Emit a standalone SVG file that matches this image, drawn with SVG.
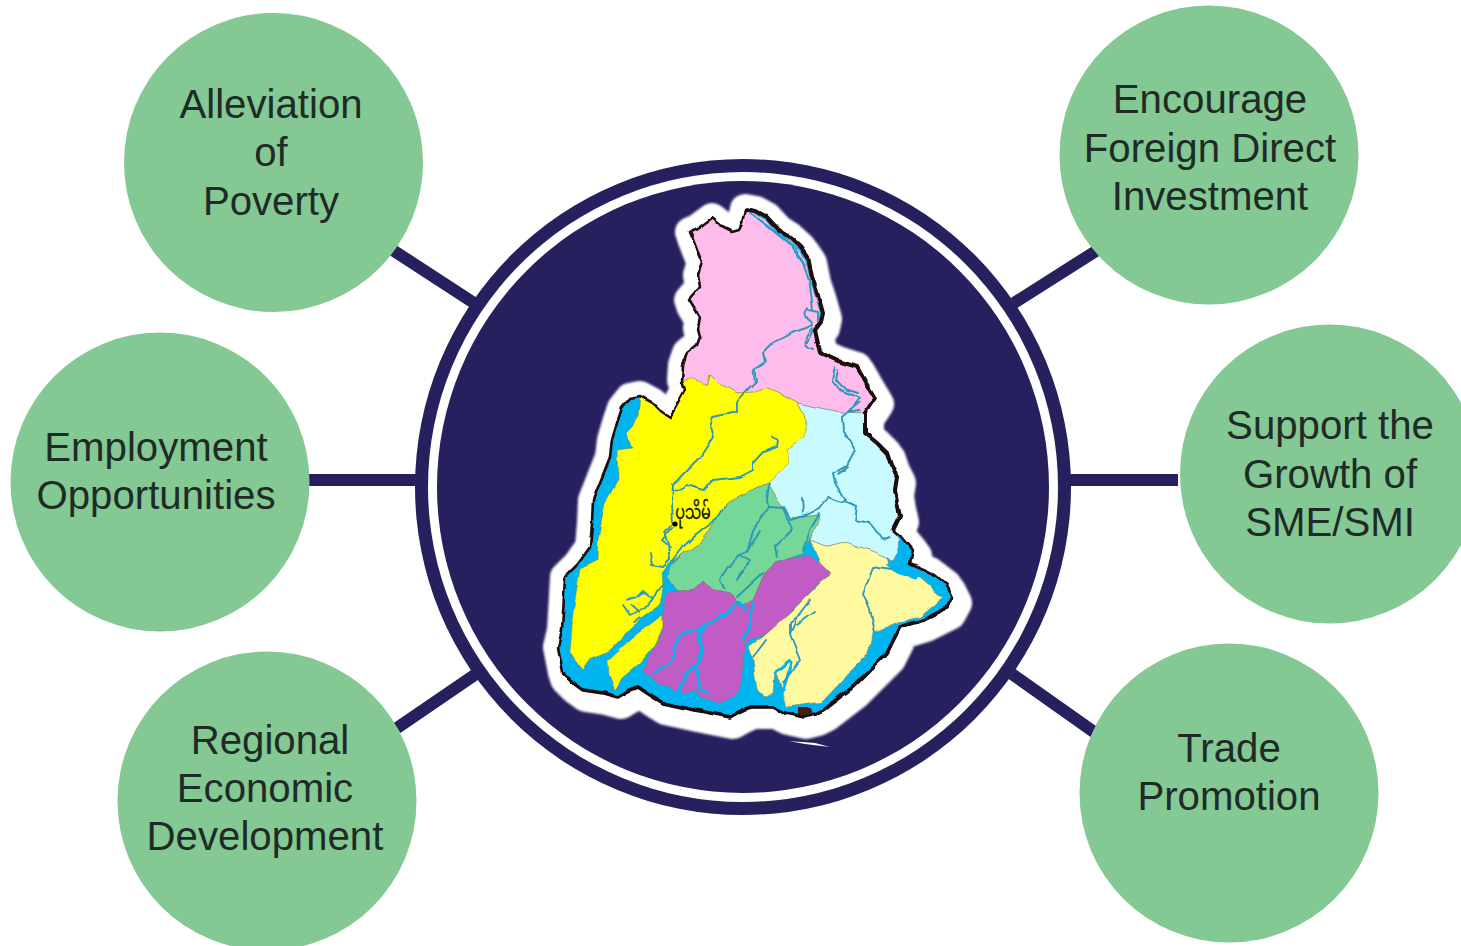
<svg xmlns="http://www.w3.org/2000/svg" width="1461" height="946" viewBox="0 0 1461 946">
<style>
.n{fill:#84c894}
.l{font-family:"Liberation Sans",Arial,sans-serif;font-size:40.2px;fill:#1f2b26;text-anchor:middle}
.c{stroke:#27205f;stroke-width:12;fill:none}
.r{fill:none;stroke:#2f98b8;stroke-width:1.9;stroke-linejoin:round;stroke-linecap:round}
.b{fill:none;stroke:#00b5ef;stroke-linejoin:round;stroke-linecap:round}
.e{stroke:#8a7a50;stroke-width:.5;stroke-linejoin:round}
</style>
<defs>
<filter id="w" filterUnits="userSpaceOnUse" x="520" y="180" width="470" height="560">
<feTurbulence type="fractalNoise" baseFrequency="0.08" numOctaves="1" seed="4" result="t"/>
<feDisplacementMap in="SourceGraphic" in2="t" scale="5" xChannelSelector="R" yChannelSelector="G"/>
<feGaussianBlur stdDeviation="0.6"/>
</filter>
<filter id="s" filterUnits="userSpaceOnUse" x="500" y="160" width="510" height="620">
<feGaussianBlur stdDeviation="0.9"/>
</filter>
<path id="o" d="M690,232 L697,229 L712,218 L722,226 L732,231 L739,229 L742,223 L745,209 L756,211 L767,217 L779,230 L790,237 L801,247 L808,257 L812,277 L817,292 L823,313 L821,322 L815,330 L820,353 L838,361 L857,367 L866,383 L875,398 L865,413 L865,433 L877,443 L887,453 L891,465 L897,477 L895,490 L897,503 L900,516 L893,530 L903,538 L913,550 L910,563 L930,572 L947,585 L953,597 L947,608 L923,620 L900,627 L887,653 L873,667 L853,687 L823,710 L815,714 L803,717 L785,713 L773,707 L750,707 L737,713 L730,717 L695,710 L663,703 L650,695 L638,687 L628,691 L618,697 L603,693 L583,690 L572,682 L563,673 L558,647 L562,630 L563,613 L564,595 L565,577 L578,564 L590,547 L592,523 L593,500 L597,490 L610,457 L612,440 L617,423 L622,408 L630,398 L640,396 L653,403 L662,412 L670,417 L678,403 L685,390 L682,380 L683,365 L687,353 L697,345 L700,337 L698,328 L700,318 L689,300 L695,293 L700,287 L698,275 L702,262 L697,250 L692,237 Z"/>
</defs>

<g id="connectors">
<line class="c" x1="391" y1="249" x2="474" y2="303"/>
<line class="c" x1="1096" y1="251" x2="1014" y2="303"/>
<line class="c" x1="308" y1="480" x2="418" y2="480"/>
<line class="c" x1="1178" y1="480" x2="1068" y2="480"/>
<line class="c" x1="397" y1="728" x2="476" y2="674"/>
<line class="c" x1="1094" y1="732" x2="1012" y2="674"/>
</g>

<g id="hub">
<circle cx="743" cy="487" r="328" fill="#27205f"/>
<circle cx="743" cy="487" r="315" fill="#fff"/>
<circle cx="743" cy="487" r="306" fill="#27205f"/>
</g>

<g id="map">
<g filter="url(#s)">
<use href="#o" fill="#fff" stroke="#fff" stroke-width="30" stroke-linejoin="round"/>
<use href="#o" fill="#fff" stroke="#fff" stroke-width="32" stroke-linejoin="round" transform="translate(3,6)"/>
</g>
<g filter="url(#w)">
<use href="#o" fill="#00b5ef"/>
<path class="e" fill="#fdbcec" d="M690,232 L697,229 L712,218 L722,226 L732,231 L739,229 L742,223 L745,209 L756,214 L767,221 L779,234 L790,241 L801,252 L806,262 L810,280 L815,295 L820,312 L819,322 L815,330 L820,353 L838,361 L857,367 L866,383 L875,398 L865,413 L840,412 L797,403 L768,388 L755,392 L737,393 L722,385 L710,375 L708,385 L687,380 L682,380 L683,365 L687,353 L697,345 L700,337 L698,328 L700,318 L689,300 L695,293 L700,287 L698,275 L702,262 L697,250 L692,237 Z"/>
<path class="e" fill="#c8faff" d="M797,403 L840,412 L865,413 L865,433 L877,443 L887,453 L891,465 L897,477 L895,490 L897,503 L900,516 L893,530 L900,540 L897,552 L892,562 L887,557 L870,550 L840,542 L825,546 L810,540 L820,515 L790,518 L775,495 L768,483 L787,450 L807,423 Z"/>
<path class="e" fill="#ffff00" d="M640,396 L653,403 L662,412 L670,417 L678,403 L685,390 L682,380 L690,378 L708,385 L710,375 L722,385 L737,393 L755,392 L768,388 L797,403 L807,423 L803,437 L787,450 L789,463 L768,483 L727,503 L712,524 L700,543 L684,553 L668,565 L662,573 L663,587 L660,605 L643,617 L630,630 L610,650 L590,658 L582,670 L570,653 L573,613 L580,568 L597,560 L598,540 L605,503 L618,480 L617,450 L632,448 L627,433 L638,417 Z"/>
<path class="e" fill="#ffff00" d="M663,615 L663,627 L655,645 L640,663 L622,678 L615,690 L609,675 L608,660 L633,637 L645,628 Z"/>
<path class="e" fill="#74d898" d="M768,483 L775,495 L790,518 L820,515 L818,524 L802,553 L775,562 L765,572 L753,600 L740,607 L733,595 L713,590 L703,580 L693,590 L678,592 L668,577 L670,567 L684,553 L700,543 L712,524 L727,503 Z"/>
<path class="e" fill="#c05cc4" d="M667,593 L678,592 L693,590 L703,580 L713,590 L733,595 L740,607 L753,600 L765,572 L775,562 L808,554 L820,563 L830,573 L812,590 L790,612 L775,628 L762,636 L750,640 L744,645 L743,665 L740,690 L733,697 L720,703 L700,697 L697,690 L678,693 L670,688 L657,683 L642,670 L653,650 L663,630 L663,613 Z"/>
<path class="e" fill="#fffaa0" d="M810,540 L825,546 L840,542 L870,550 L887,557 L890,570 L920,578 L943,598 L920,617 L897,623 L873,633 L868,653 L840,683 L822,702 L787,707 L783,693 L775,670 L773,693 L765,697 L757,690 L753,660 L748,647 L763,637 L790,613 L830,573 L820,563 Z"/>

<g id="sea-channels">
<path class="b" stroke-width="5" d="M889,566 L900,572 L915,578"/>
<path class="b" stroke-width="3" d="M775,672 L790,660 M783,690 L792,662"/>
<path class="b" stroke-width="3" d="M737,603 L727,613 L703,627"/>
<path class="b" stroke-width="4.500" d="M703,627 L698,637 L703,650 L700,660"/>
<path class="b" stroke-width="3.500" d="M700,660 L687,673 L677,693"/>
<path class="b" stroke-width="2.500" d="M683,633 L673,647 L675,654 L670,663 L653,673"/>
<path class="b" stroke-width="2.500" d="M703,627 L683,633"/>
<path class="b" stroke-width="2.500" d="M697,668 L700,690 L708,692"/>
<path class="b" stroke-width="3" d="M753,603 L750,625 L743,640"/>
<path class="b" stroke-width="3" d="M737,603 L745,610"/>
</g>

<g id="rivers">
<path class="r" d="M755,370 L757,380 L747,390 L737,402 L737,412 L713,417 L710,427 L713,437 L700,457 L687,470 L673,485 L672,503 L673,523 L665,533 L670,547"/>
<path class="r" d="M673,492 L687,485 L703,490 L713,480 L740,477 L753,470 L753,463 L763,452 L777,447 L778,440 L772,437"/>
<path class="r" d="M812,325 L793,333 L773,343 L763,353 L765,362 L753,370 L755,382"/>
<path class="r" d="M812,323 C804,318 802,312 808,308 M808,310 L818,312 L818,322 M812,328 C804,338 802,345 813,349 M813,330 L807,342 M816,335 L822,352"/>
<path class="r" d="M747,210 L765,224 L790,245 L803,263 L810,285 L813,310"/>
<path class="r" stroke-width="3" style="stroke:#17a6d8" d="M750,213 L770,227 L795,248 L805,266"/>
<path class="r" d="M835,367 L832,380 L840,390 L860,398 L853,407 L842,417 L843,430 L855,450 L847,465 L833,473 L835,483 L845,500 L840,503 L828,498 L820,508 L805,516 L790,520"/>
<path class="r" d="M838,370 L836,380 L845,389 L858,393 M860,402 L848,412 L860,410 M848,466 L838,474 L845,470"/>
<path class="r" d="M845,502 L857,507 L855,520 L870,523 L882,540 L890,537"/>
<path class="r" d="M802,498 L803,512"/>
<path class="r" d="M820,513 L810,530 L808,537 L803,550"/>
<path class="r" d="M768,507 L753,530 L748,550"/>
<path class="r" d="M768,507 L783,508 L792,530 L775,547 L777,557"/>
<path class="r" d="M760,530 L747,552 L740,555 L727,567 L720,580 L725,590"/>
<path class="r" d="M740,555 L750,560 L737,580 L742,570 M763,573 L737,597"/>
<path class="r" d="M790,518 L784,507"/>
<path class="r" d="M769,484 L767,500 L768,507"/>
<path class="r" d="M726,505 L720,512 L715,520 L705,527 L695,535 L685,545 L672,562"/>
<path class="r" d="M672,528 L662,540 L668,545 L670,560 L663,567 L652,565 L650,553"/>
<path class="r" d="M664,585 L657,590 L652,600 L645,608 L630,615 L623,605 M643,590 L652,598 M643,590 L636,597 L627,600 M640,612 L632,605 M640,618 L635,622"/>
<path class="r" d="M890,570 L873,567 L863,593 L870,610 L875,632"/>
<path class="r" stroke-width="2.500" d="M783,683 L800,660 L790,635 L797,617 L810,600 M790,635 L790,623 L800,615 M797,625 L815,612"/>
<path class="r" stroke-width="1.500" d="M753,657 L760,648 L766,640"/>
<use href="#o" fill="none" stroke="#1c0a0c" stroke-width="2.600" stroke-linejoin="round"/>
<path fill="none" stroke="#1c0a0c" stroke-width="4" stroke-linejoin="round" d="M745,209 L756,211 L767,217 L779,230 L790,237 L801,247 L808,257 L812,277 L817,292 L823,313 L821,322 L815,330 L820,353 L838,361 L857,367 L866,383 L875,398 L865,413 L865,433 L877,443 L887,453 L891,465 L897,477 L895,490 L897,503 L900,516 L893,530"/>
<path fill="none" stroke="#1c0a0c" stroke-width="3.600" stroke-linejoin="round" d="M953,597 L947,608 L923,620 L900,627 L887,653 L873,667 L853,687 L823,710 L815,714 L803,717 L785,713 L773,707 L750,707 L737,713 L730,717 L695,710 L663,703 L650,695 L638,687 L628,691 L618,697 L603,693 L583,690 L572,682 L563,673"/>
</g>
<rect x="798" y="708" width="14" height="7" fill="#4a1a08"/>
</g>
<path d="M789,741 L815,743 L830,747 L805,744 Z" fill="#fff"/>
<circle cx="675" cy="524" r="2.600" fill="#000"/>
<text transform="translate(693,519) scale(.72,1)" font-family="'Noto Sans Myanmar','Noto Sans','DejaVu Sans',sans-serif" font-size="20" fill="#111" stroke="#111" stroke-width=".3" text-anchor="middle">ပုသိမ်</text>
</g>

<g id="n1"><circle class="n" cx="273.500" cy="162.500" r="149.500"/><text class="l" x="271" y="118">Alleviation</text><text class="l" x="271" y="166">of</text><text class="l" x="271" y="215">Poverty</text></g>
<g id="n2"><circle class="n" cx="1209" cy="155" r="149.500"/><text class="l" x="1210" y="113">Encourage</text><text class="l" x="1210" y="162">Foreign Direct</text><text class="l" x="1210" y="210">Investment</text></g>
<g id="n3"><circle class="n" cx="160" cy="482" r="149.500"/><text class="l" x="156" y="461">Employment</text><text class="l" x="156" y="509">Opportunities</text></g>
<g id="n4"><circle class="n" cx="1329.500" cy="474" r="149.500"/><text class="l" x="1330" y="439">Support the</text><text class="l" x="1330" y="488">Growth of</text><text class="l" x="1330" y="536">SME/SMI</text></g>
<g id="n5"><circle class="n" cx="267" cy="801" r="149.500"/><text class="l" x="270" y="754">Regional</text><text class="l" x="265" y="802">Economic</text><text class="l" x="265" y="850">Development</text></g>
<g id="n6"><circle class="n" cx="1229" cy="793" r="149.500"/><text class="l" x="1229" y="762">Trade</text><text class="l" x="1229" y="810">Promotion</text></g>
</svg>
